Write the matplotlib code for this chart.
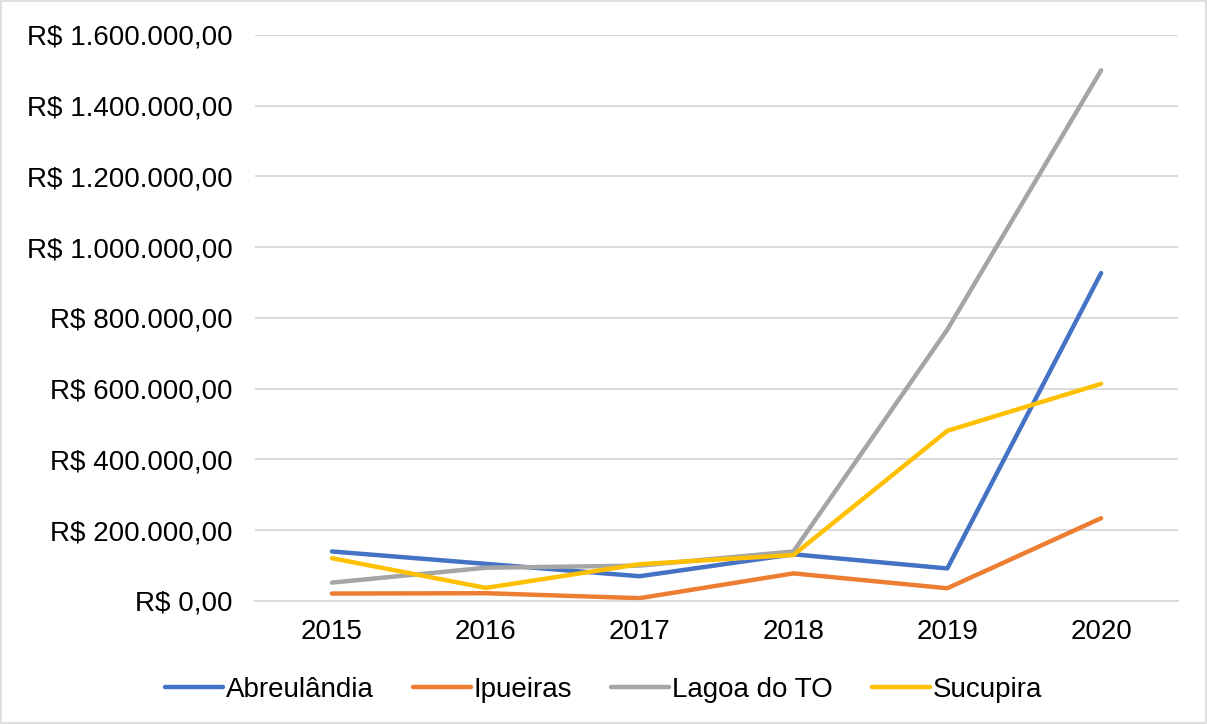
import matplotlib.pyplot as plt
from matplotlib.ticker import FuncFormatter, MultipleLocator
from matplotlib.patches import Rectangle

plt.rcParams['font.family'] = ['Liberation Sans', 'DejaVu Sans']

anos = ['2015', '2016', '2017', '2018', '2019', '2020']
abreulandia = [140000, 105000, 70000, 132000, 92000, 927000]
ipueiras = [21000, 22000, 8000, 78000, 36000, 234000]
lagoa_do_to = [52000, 94000, 100000, 140000, 767000, 1500000]
sucupira = [121000, 37000, 104000, 130000, 481000, 614000]

series = [
    ('Abreulândia', abreulandia, '#4472C4'),
    ('Ipueiras', ipueiras, '#ED7D31'),
    ('Lagoa do TO', lagoa_do_to, '#A5A5A5'),
    ('Sucupira', sucupira, '#FFC000'),
]


def reais(v, pos):
    s = f'{v:,.2f}'
    s = s.replace(',', 'X').replace('.', ',').replace('X', '.')
    return 'R$ ' + s


fig = plt.figure(figsize=(12.07, 7.24), dpi=100)
ax = fig.add_axes([0.2113, 0.1699, 0.7647, 0.7818])

x = range(len(anos))
for nome, vals, cor in series:
    ax.plot(x, vals, color=cor, lw=3.2, label=nome, solid_capstyle='round',
            solid_joinstyle='round')

ax.set_xlim(-0.5, 5.5)
ax.set_ylim(0, 1600000)
ax.set_xticks(list(x))
ax.set_xticklabels(anos)
ax.yaxis.set_major_locator(MultipleLocator(200000))
ax.yaxis.set_major_formatter(FuncFormatter(reais))
ax.grid(axis='y', color='#D9D9D9', lw=1.4)
ax.set_axisbelow(True)
for s in ['top', 'right', 'left']:
    ax.spines[s].set_visible(False)
ax.spines['bottom'].set_color('#D9D9D9')
ax.spines['bottom'].set_linewidth(1.4)
ax.tick_params(axis='both', length=0, labelsize=20, colors='#000000')
ax.tick_params(axis='y', pad=16)
ax.tick_params(axis='x', pad=13)

fig.legend(loc='center', bbox_to_anchor=(0.5, 0.047), ncol=4, frameon=False,
           fontsize=20, handlelength=2.1, handletextpad=0.1, columnspacing=1.4)

fig.patches.append(Rectangle((0.001, 0.001), 0.998, 0.997, transform=fig.transFigure,
                             fill=False, edgecolor='#D9D9D9', lw=1.2))

fig.savefig('out.png', dpi=100)
